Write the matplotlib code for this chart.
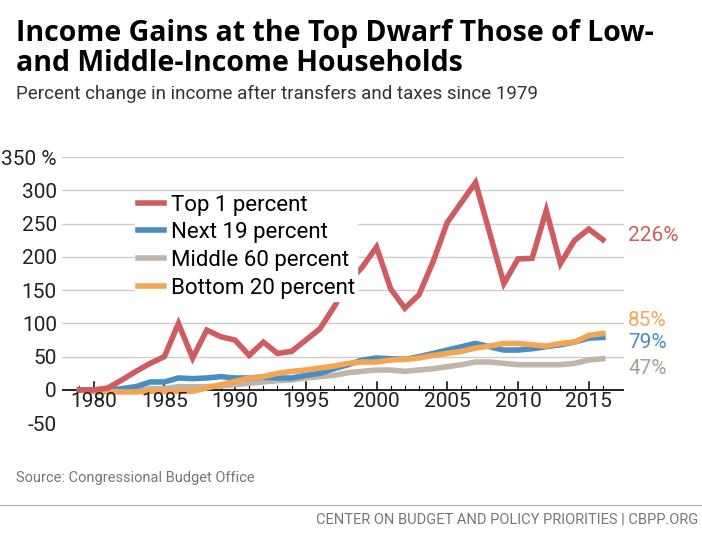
import matplotlib
matplotlib.use("Agg")
import matplotlib.pyplot as plt

years = list(range(1979, 2017))
top1 = [0, 0, 3, 15, 28, 40, 50, 100, 48, 90, 80, 75, 52, 72, 55, 58, 75, 92, 125, 162,
        185, 215, 152, 123, 143, 193, 252, 282, 312, 236, 160, 197, 198, 270, 190, 225, 242, 226]
next19 = [0, 0, 0, 2, 5, 12, 12, 18, 17, 18, 20, 18, 18, 19, 18, 18, 22, 25, 32, 38,
          45, 48, 47, 46, 50, 55, 60, 65, 70, 65, 60, 60, 62, 65, 68, 72, 78, 79]
middle60 = [0, -3, -3, -2, -1, 2, 2, 5, 5, 5, 6, 8, 10, 12, 14, 15, 18, 20, 22, 26,
            28, 30, 30, 28, 30, 32, 35, 38, 42, 42, 40, 38, 38, 38, 38, 40, 45, 47]
bottom20 = [0, -2, -2, -3, -3, -2, -2, -2, -2, 3, 8, 13, 18, 20, 25, 28, 30, 33, 36, 40,
            42, 42, 45, 46, 48, 52, 55, 58, 63, 66, 70, 70, 68, 66, 70, 72, 82, 85]
y_ticks = [-50, 0, 50, 100, 150, 200, 250, 300, 350]
x_ticks = [1980, 1985, 1990, 1995, 2000, 2005, 2010, 2015]

RED, BLUE, GRAY, ORANGE = "#cf5c60", "#4a8cc4", "#bfb5a8", "#f2a654"
FONT = "Roboto"

fig = plt.figure(figsize=(7.02, 5.33), dpi=100)
ax = fig.add_axes([0.089, 0.206, 0.80, 0.499])

for y in y_ticks:
    if y not in (0, -50):
        ax.axhline(y, color="#cccccc", lw=1, zorder=0)

series = [("Middle 60 percent", middle60, GRAY), ("Next 19 percent", next19, BLUE),
          ("Bottom 20 percent", bottom20, ORANGE), ("Top 1 percent", top1, RED)]
for name, vals, c in series:
    ax.plot(years, vals, color=c, lw=4, solid_joinstyle="miter", label=name)

ax.axhline(0, color="black", lw=1.2, zorder=1)
for yr in years:
    h = 12 if yr % 5 == 0 else 6
    ax.plot([yr, yr], [0, h], color="black", lw=1.1 if yr % 5 == 0 else 0.8, zorder=1)

ax.set_xlim(1977.8, 2017.5)
ax.set_ylim(-50, 350)
ax.set_yticks(y_ticks)
ax.set_yticklabels([str(v) for v in y_ticks[:-1]] + ["350 %"], fontsize=15, family=FONT, color="#222222")
ax.set_xticks([])
for yr in x_ticks:
    ax.text(yr, -18, str(yr), fontsize=15, family=FONT, color="#222222", ha="center", va="center")
ax.tick_params(length=0, pad=4)
for s in ax.spines.values():
    s.set_visible(False)

handles, labels = ax.get_legend_handles_labels()
order = [3, 1, 0, 2]
leg = ax.legend([handles[i] for i in order], [labels[i] for i in order],
                loc="upper left", bbox_to_anchor=(0.11, 0.91), frameon=True,
                prop={"family": FONT, "size": 16}, handlelength=1.2,
                labelspacing=0.3, handletextpad=0.3, borderpad=0.1)
leg.get_frame().set_facecolor("white")
leg.get_frame().set_edgecolor("white")
leg.get_frame().set_alpha(1)

for yy, txt, c in [(232, "226%", RED), (104, "85%", ORANGE), (72, "79%", BLUE), (32, "47%", "#a89f94")]:
    ax.text(2017.8, yy, txt, color=c, fontsize=15, family=FONT, va="center", clip_on=False)

fig.text(0.023, 0.965, "Income Gains at the Top Dwarf Those of Low-\nand Middle-Income Households",
         fontsize=20.5, fontweight="bold", family="Open Sans", va="top", linespacing=1.08, color="black")
fig.text(0.023, 0.84, "Percent change in income after transfers and taxes since 1979",
         fontsize=13.5, family=FONT, va="top", color="#333333")
fig.text(0.023, 0.103, "Source: Congressional Budget Office", fontsize=10.5, family=FONT, color="#777777", va="center")
fig.add_artist(plt.Line2D([0, 1], [0.053, 0.053], color="#aaaaaa", lw=0.8))
fig.text(0.995, 0.025, "CENTER ON BUDGET AND POLICY PRIORITIES | CBPP.ORG", fontsize=10.5, family=FONT,
         color="#777777", ha="right", va="center")

fig.savefig("out.png", dpi=100)
